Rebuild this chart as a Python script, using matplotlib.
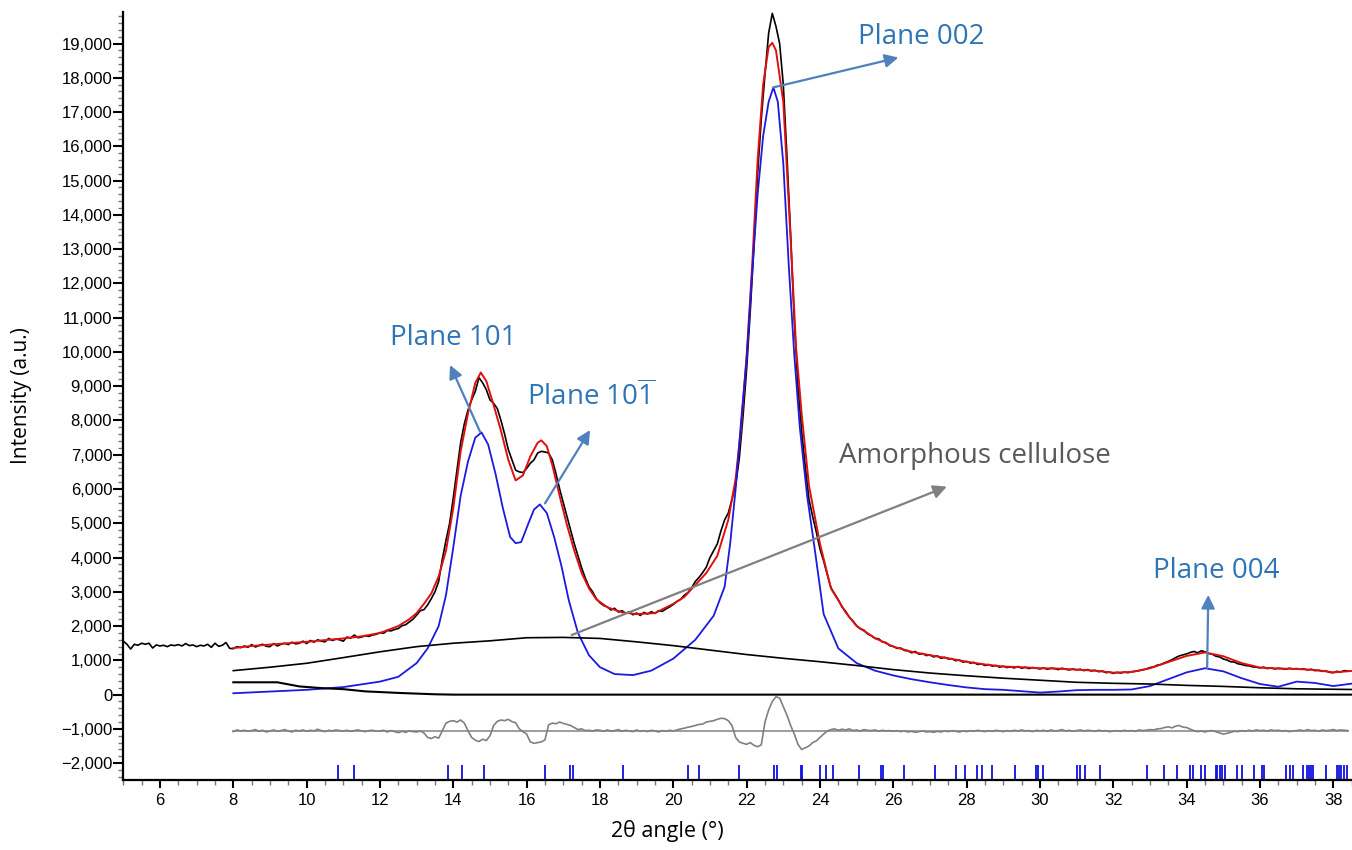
import numpy as np
import matplotlib
matplotlib.use('Agg')
import matplotlib.pyplot as plt
from matplotlib.ticker import MultipleLocator, StrMethodFormatter

plt.rcParams['mathtext.fontset'] = 'custom'
plt.rcParams['mathtext.rm'] = 'Open Sans'

# observed pattern, 0.1 deg step from 5.0
obs_start = 5.0
obs_y = [
    1560, 1470, 1330, 1470, 1440, 1500, 1470, 1500, 1360, 1450,
    1420, 1440, 1400, 1450, 1430, 1460, 1420, 1490, 1430, 1450,
    1400, 1440, 1420, 1470, 1380, 1500, 1410, 1440, 1520, 1350,
    1340, 1400, 1370, 1420, 1380, 1460, 1390, 1430, 1470, 1410,
    1400, 1490, 1420, 1470, 1500, 1460, 1530, 1480, 1500, 1560,
    1490, 1580, 1530, 1600, 1560, 1540, 1640, 1580, 1620, 1600,
    1560, 1680, 1650, 1740, 1660, 1680, 1720, 1700, 1740, 1760,
    1810, 1790, 1870, 1860, 1900, 1930, 2010, 2040, 2120, 2200,
    2320, 2450, 2480, 2620, 2800, 3000, 3300, 3950, 4500, 5000,
    5750, 6550, 7350, 7900, 8300, 8600, 8850, 9250, 9100, 8900,
    8600, 8500, 8350, 8000, 7600, 7150, 6850, 6550, 6500, 6480,
    6600, 6750, 6850, 7050, 7100, 7080, 7050, 6850, 6450, 6000,
    5600, 5200, 4800, 4400, 4050, 3700, 3400, 3150, 3000, 2800,
    2680, 2600, 2560, 2470, 2520, 2410, 2450, 2370, 2420, 2330,
    2380, 2310, 2400, 2350, 2420, 2370, 2450, 2430, 2500, 2560,
    2630, 2720, 2780, 2900, 2980, 3120, 3300, 3420, 3560, 3720,
    4000, 4200, 4400, 4780, 5100, 5300, 5700, 6100, 6900, 8100,
    9500, 11200, 13100, 15200, 16800, 18100, 19300, 19880, 19500, 19000,
    17800, 15700, 13400, 10900, 9000, 7700, 6650, 5700, 5200, 4750,
    4250, 3900, 3500, 3120, 2940, 2770, 2560, 2430, 2260, 2150,
    2010, 1920, 1880, 1770, 1720, 1640, 1630, 1540, 1520, 1430,
    1410, 1350, 1360, 1290, 1280, 1220, 1260, 1180, 1200, 1140,
    1160, 1100, 1130, 1060, 1090, 1040, 1050, 990, 1010, 950,
    970, 920, 940, 880, 900, 850, 880, 830, 850, 800,
    830, 790, 810, 780, 820, 770, 800, 760, 790, 770,
    750, 780, 740, 770, 760, 730, 770, 740, 720, 750,
    720, 740, 700, 730, 690, 710, 670, 690, 640, 660,
    620, 650, 630, 660, 640, 670, 680, 700, 720, 750,
    790, 810, 860, 880, 930, 970, 1020, 1080, 1130, 1160,
    1190, 1230, 1260, 1220, 1280, 1250, 1200, 1180, 1120, 1100,
    1040, 1010, 960, 950, 900, 880, 850, 840, 810, 800,
    780, 800, 760, 780, 750, 770, 760, 740, 770, 750,
    760, 740, 750, 720, 740, 700, 710, 680, 690, 650,
    640, 680, 660, 700, 690,
]

# calculated (fitted) pattern
fit_x = [8.0, 8.5, 9.0, 9.5, 10.0, 10.5, 11.0, 11.5, 12.0, 12.5, 12.8, 13.0,
         13.2, 13.4, 13.6, 13.8, 14.0, 14.2, 14.4, 14.6, 14.75, 14.9, 15.1,
         15.3, 15.5, 15.7, 15.9, 16.1, 16.3, 16.4, 16.55, 16.7, 16.9, 17.1,
         17.3, 17.5, 17.7, 17.9, 18.2, 18.6, 19.0, 19.5, 20.0, 20.3, 20.6,
         20.9, 21.2, 21.5, 21.7, 21.85, 22.0, 22.15, 22.3, 22.45, 22.6, 22.7,
         22.8, 23.0, 23.2, 23.35, 23.5, 23.7, 24.0, 24.3, 24.7, 25.0, 25.5,
         26.0, 26.5, 27.0, 27.5, 28.0, 28.5, 29.0, 29.5, 30.0, 30.5, 31.0,
         31.5, 32.0, 32.5, 33.0, 33.5, 34.0, 34.5, 35.0, 35.5, 36.0, 36.5,
         37.0, 37.5, 38.0, 38.5]
fit_y = [1360, 1420, 1460, 1500, 1540, 1590, 1640, 1700, 1800, 2000, 2200, 2380,
         2650, 2950, 3450, 4200, 5450, 7100, 8200, 9100, 9400, 9150, 8450,
         7700, 6850, 6250, 6400, 6950, 7350, 7420, 7250, 6700, 5800, 4950,
         4200, 3550, 3100, 2780, 2550, 2400, 2350, 2380, 2650, 2850, 3200,
         3550, 4050, 5100, 6300, 7800, 9900, 12500, 15600, 17800, 18900, 19020,
         18800, 17300, 13300, 10100, 8200, 6100, 4400, 3100, 2400, 2000, 1650,
         1400, 1250, 1150, 1060, 960, 880, 820, 800, 770, 760, 730,
         700, 640, 660, 770, 950, 1130, 1230, 1120, 920, 790, 760,
         750, 720, 650, 690]

# crystalline cellulose component
cry_x = [8.0, 9.0, 10.0, 11.0, 12.0, 12.5, 13.0, 13.3, 13.6, 13.8, 14.0, 14.2,
         14.4, 14.6, 14.77, 14.95, 15.15, 15.35, 15.55, 15.7, 15.85, 16.05,
         16.2, 16.36, 16.55, 16.75, 16.95, 17.15, 17.4, 17.7, 18.0, 18.4,
         18.9, 19.4, 20.0, 20.6, 21.1, 21.4, 21.55, 21.7, 21.85, 22.0, 22.15,
         22.3, 22.45, 22.6, 22.73, 22.85, 23.0, 23.15, 23.3, 23.45, 23.65,
         23.85, 24.1, 24.5, 25.0, 25.5, 26.0, 26.5, 27.0, 27.5, 28.0, 28.5,
         29.0, 29.5, 30.0, 30.5, 31.0, 31.5, 32.0, 32.5, 33.0, 33.5, 34.0,
         34.5, 35.0, 35.5, 36.0, 36.5, 37.0, 37.5, 38.0, 38.5]
cry_y = [40, 90, 140, 220, 380, 520, 920, 1350, 2000, 2900, 4300, 5800,
         6800, 7500, 7650, 7300, 6450, 5450, 4600, 4420, 4450, 5000,
         5400, 5550, 5300, 4600, 3750, 2750, 1800, 1150, 800, 600,
         570, 700, 1050, 1600, 2300, 3150, 4400, 6000, 8000, 9800, 12300,
         14600, 16300, 17300, 17720, 17300, 15500, 12500, 9900, 7800, 5800,
         4300, 2350, 1350, 920, 700, 560, 450, 360, 280, 210, 160,
         140, 100, 60, 90, 130, 140, 140, 150, 250, 450, 650,
         770, 680, 480, 310, 230, 380, 340, 250, 320]

# amorphous cellulose hump
amo_x = [8.0, 9.0, 10.0, 11.0, 12.0, 13.0, 14.0, 15.0, 16.0, 17.0, 18.0, 19.0,
         20.0, 21.0, 22.0, 23.0, 24.0, 25.0, 26.0, 27.0, 28.0, 29.0, 30.0,
         31.0, 32.0, 33.0, 34.0, 35.0, 36.0, 37.0, 38.5]
amo_y = [700, 800, 915, 1080, 1250, 1400, 1500, 1570, 1660, 1670, 1640, 1540,
         1430, 1300, 1170, 1060, 960, 850, 730, 630, 550, 480, 420,
         360, 330, 310, 270, 240, 200, 170, 150]

# background
bkg_x = [8.0, 9.2, 9.8, 10.4, 11.0, 11.6, 12.5, 13.5, 14.0, 38.5]
bkg_y = [360, 360, 240, 190, 160, 95, 50, 10, 0, 0]

# difference curve (offset), 0.1 deg step from 8.0
diff_start = 8.0
diff_zero = -1060
diff_y = [
    -1080, -1030, -1060, -1040, -1070, -1050, -1020, -1070, -1040, -1090,
    -1060, -1030, -1070, -1050, -1020, -1060, -1090, -1040, -1060, -1030,
    -1070, -1040, -1060, -1010, -1050, -1080, -1040, -1060, -1030, -1050,
    -1060, -1040, -1070, -1050, -1030, -1060, -1080, -1050, -1040, -1070,
    -1060, -1040, -1090, -1050, -1080, -1110, -1070, -1100, -1060, -1080,
    -1090, -1060, -1120, -1250, -1280, -1230, -1270, -1060, -830, -780,
    -760, -800, -740, -830, -1050, -1250, -1330, -1370, -1300, -1340,
    -1200, -900, -780, -740, -760, -720, -790, -820, -1000, -1080,
    -1150, -1380, -1420, -1400, -1380, -1320, -880, -830, -850, -800,
    -840, -870, -900, -960, -1020, -1000, -1050, -1040, -1060, -1030,
    -1040, -1070, -1030, -1060, -1050, -1020, -1070, -1040, -1060, -1080,
    -1030, -1070, -1050, -1080, -1040, -1060, -1090, -1050, -1070, -1040,
    -1060, -1030, -1000, -980, -950, -930, -900, -870, -860, -800,
    -780, -760, -720, -690, -700, -760, -900, -1250, -1380, -1420,
    -1450, -1400, -1480, -1520, -1466, -800, -450, -200, -60, -100,
    -350, -600, -900, -1150, -1450, -1600, -1550, -1500, -1400, -1350,
    -1250, -1150, -1060, -1020, -1000, -1040, -1010, -1030, -1000, -1050,
    -1030, -1060, -1020, -1040, -1050, -1030, -1070, -1040, -1060, -1050,
    -1070, -1050, -1080, -1060, -1090, -1070, -1100, -1080, -1060, -1090,
    -1080, -1100, -1070, -1090, -1060, -1080, -1050, -1070, -1090, -1060,
    -1080, -1050, -1070, -1040, -1060, -1080, -1050, -1070, -1040, -1060,
    -1080, -1050, -1070, -1040, -1060, -1030, -1060, -1050, -1080, -1040,
    -1060, -1040, -1070, -1030, -1060, -1050, -1020, -1060, -1040, -1070,
    -1050, -1030, -1060, -1040, -1050, -1070, -1040, -1060, -1050, -1080,
    -1060, -1050, -1070, -1040, -1060, -1050, -1070, -1030, -1050, -1040,
    -1020, -1030, -1000, -990, -960, -940, -970, -920, -900, -950,
    -960, -1010, -1050, -1080, -1060, -1090, -1060, -1050, -1080, -1120,
    -1150, -1130, -1100, -1070, -1080, -1050, -1070, -1040, -1060, -1030,
    -1050, -1040, -1060, -1030, -1050, -1040, -1060, -1050, -1080, -1060,
    -1050, -1030, -1060, -1020, -1050, -1040, -1070, -1030, -1050, -1040,
    -1020, -1050, -1030, -1040, -1050,
]

# reflection positions (blue bars)
peak_pos = [10.85, 11.29, 13.85, 14.23, 14.85, 16.49, 17.18, 17.26, 18.64,
            20.41, 20.70, 21.80, 22.75, 22.84, 23.47, 23.52, 24.00, 24.16,
            24.35, 25.06, 25.66, 25.71, 26.30, 27.13, 27.71, 27.95, 28.27,
            28.43, 28.68, 29.33, 29.88, 29.95, 30.09, 31.01, 31.09, 31.22,
            31.65, 32.93, 33.38, 33.74, 34.10, 34.18, 34.40, 34.51, 34.79,
            34.83, 34.92, 34.97, 35.04, 35.38, 35.52, 35.84, 36.06, 36.10,
            36.70, 36.83, 36.90, 37.16, 37.29, 37.34, 37.38, 37.45, 37.80,
            38.11, 38.16, 38.22, 38.29, 38.36]

obs_x = obs_start + 0.1*np.arange(len(obs_y))
diff_x = diff_start + 0.1*np.arange(len(diff_y))

fig = plt.figure(figsize=(13.52, 8.5), dpi=100)
ax = fig.add_axes([0.0912, 0.0824, 0.9088, 0.9035])

ax.plot(obs_x, obs_y, color='black', lw=1.2)
ax.plot(fit_x, fit_y, color='#e01010', lw=1.4)
ax.plot(cry_x, cry_y, color='#1a1ae0', lw=1.3)
ax.plot(amo_x, amo_y, color='black', lw=1.2)
ax.plot(bkg_x, bkg_y, color='black', lw=1.5)
ax.plot([diff_x[0], diff_x[-1]], [diff_zero, diff_zero], color='#8c8c8c', lw=1.2)
ax.plot(diff_x, diff_y, color='#808080', lw=1.2)
ax.vlines(peak_pos, -2490, -2050, color='#1010e0', lw=1.3)

ax.set_xlim(5, 38.51)
ax.set_ylim(-2490, 19920)
ax.spines['top'].set_visible(False)
ax.spines['right'].set_visible(False)
ax.spines['left'].set_linewidth(1.6)
ax.spines['bottom'].set_linewidth(1.6)

ax.xaxis.set_major_locator(MultipleLocator(2))
ax.xaxis.set_minor_locator(MultipleLocator(0.5))
ax.yaxis.set_major_locator(MultipleLocator(1000))
ax.yaxis.set_minor_locator(MultipleLocator(200))
ax.yaxis.set_major_formatter(StrMethodFormatter('{x:,.0f}'))
ax.set_yticks(np.arange(-2000, 19001, 1000))
ax.tick_params(axis='both', which='major', direction='out', width=1.5,
               labelsize=12, labelfontfamily='Liberation Sans')
ax.tick_params(axis='y', which='major', length=7, pad=1)
ax.tick_params(axis='x', which='major', length=5.5, pad=4)
ax.tick_params(axis='both', which='minor', direction='out', length=3.5,
               width=1.0, color='#777777')

ax.set_xlabel('2θ angle (°)', fontsize=15.5, family='Open Sans')
ax.set_ylabel('Intensity (a.u.)', fontsize=15, family='Open Sans')
ax.xaxis.set_label_coords(0.4425, -0.052)
ax.yaxis.set_label_coords(-0.0743, 0.5)

blue = '#2e75b6'
ablue = '#4f81bd'
arr_b = dict(arrowstyle='-|>', color=ablue, lw=1.6, mutation_scale=20,
             shrinkA=0, shrinkB=0)
arr_g = dict(arrowstyle='-|>', color='#808080', lw=1.6, mutation_scale=20,
             shrinkA=0, shrinkB=0)

ax.annotate('', xy=(13.91, 9620), xytext=(14.73, 7670), arrowprops=arr_b)
ax.text(13.99, 10400, 'Plane 101', color=blue, fontsize=20,
        family='Open Sans', ha='center', va='center')

ax.annotate('', xy=(17.73, 7720), xytext=(16.5, 5580), arrowprops=arr_b)
ax.text(17.75, 8710, r'Plane 10$\overline{1}$', color=blue, fontsize=20,
        family='Open Sans', ha='center', va='center')

ax.annotate('', xy=(26.14, 18590), xytext=(22.73, 17720), arrowprops=arr_b)
ax.text(26.75, 19185, 'Plane 002', color=blue, fontsize=20,
        family='Open Sans', ha='center', va='center')

ax.annotate('', xy=(27.46, 6070), xytext=(17.23, 1740), arrowprops=arr_g)
ax.text(28.23, 6960, 'Amorphous cellulose', color='#595959', fontsize=20,
        family='Open Sans', ha='center', va='center')

ax.annotate('', xy=(34.59, 2910), xytext=(34.56, 780), arrowprops=arr_b)
ax.text(34.8, 3610, 'Plane 004', color=blue, fontsize=20,
        family='Open Sans', ha='center', va='center')

fig.savefig('out.png', dpi=100)
